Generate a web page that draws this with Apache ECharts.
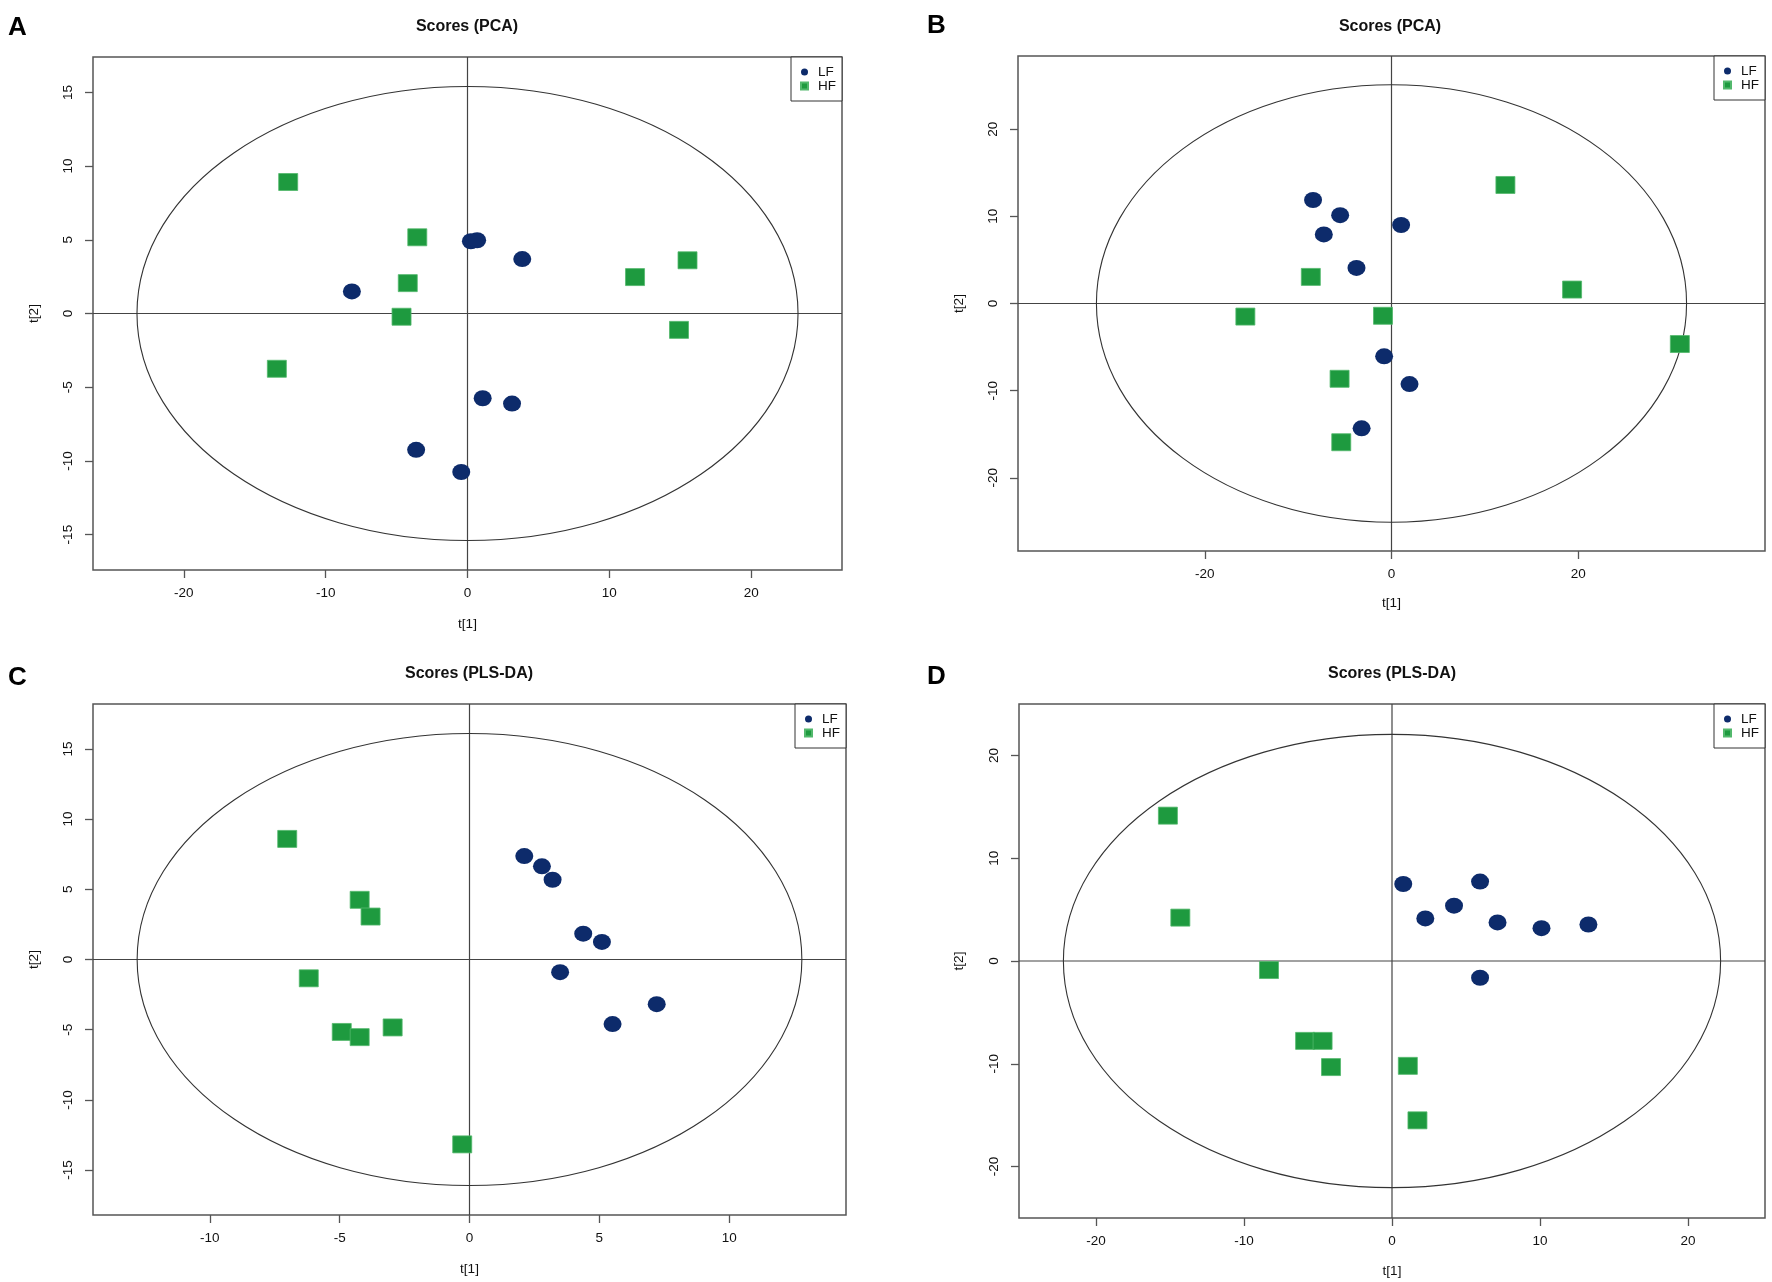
<!DOCTYPE html>
<html>
<head>
<meta charset="utf-8">
<title>Scores (PCA / PLS-DA)</title>
<script src="https://cdn.jsdelivr.net/npm/echarts@6/dist/echarts.min.js"></script>
<style>
  html, body { margin: 0; padding: 0; background: #fff; }
  #chart { width: 1772px; height: 1282px; }
</style>
</head>
<body>
<div id="chart"></div>
<script>
// 得分点数据 [t1, t2]
const pcaLF_A = [[-8.15, 1.5], [0.24, 4.9], [0.68, 4.97], [3.86, 3.69], [1.07, -5.75], [3.14, -6.11], [-3.62, -9.25], [-0.44, -10.75]];
const pcaHF_A = [[-12.64, 8.92], [-3.54, 5.17], [-4.21, 2.06], [-4.65, -0.22], [-13.44, -3.75], [11.81, 2.47], [15.51, 3.61], [14.91, -1.11]];

const pcaLF_B = [[-8.4, 11.88], [-5.5, 10.14], [-7.25, 7.93], [1.03, 9.01], [-3.75, 4.08], [-0.79, -6.06], [1.93, -9.25], [-3.2, -14.32]];
const pcaHF_B = [[12.2, 13.6], [-8.64, 3.05], [-15.65, -1.5], [-0.91, -1.41], [19.34, 1.6], [30.88, -4.65], [-5.56, -8.64], [-5.38, -15.92]];

const plsLF_C = [[2.11, 7.37], [2.79, 6.64], [3.2, 5.68], [4.38, 1.84], [5.1, 1.25], [3.49, -0.9], [7.21, -3.18], [5.51, -4.6]];
const plsHF_C = [[-7.02, 8.59], [-4.23, 4.25], [-3.81, 3.06], [-6.19, -1.34], [-4.92, -5.16], [-4.23, -5.53], [-2.96, -4.84], [-0.28, -13.17]];

const plsLF_D = [[0.76, 7.49], [5.95, 7.73], [2.25, 4.14], [4.19, 5.38], [7.13, 3.75], [10.1, 3.19], [13.27, 3.55], [5.95, -1.63]];
const plsHF_D = [[-15.14, 14.14], [-14.3, 4.22], [-8.31, -0.88], [-5.87, -7.77], [-4.69, -7.77], [-4.12, -10.32], [1.07, -10.2], [1.72, -15.5]];

// 面板文字、坐标范围、刻度
const panelLetters = ['A', 'B', 'C', 'D'];
const panelTitles = ['Scores (PCA)', 'Scores (PCA)', 'Scores (PLS-DA)', 'Scores (PLS-DA)'];
const xRanges = [[-26.4, 26.4], [-40, 40], [-14.5, 14.5], [-25.2, 25.2]];
const yRanges = [[-17.4, 17.4], [-28.4, 28.4], [-18.2, 18.2], [-25, 25]];
const xTicks = [[-20, -10, 0, 10, 20], [-20, 0, 20], [-10, -5, 0, 5, 10], [-20, -10, 0, 10, 20]];
const yTicks = [[-15, -10, -5, 0, 5, 10, 15], [-20, -10, 0, 10, 20], [-15, -10, -5, 0, 5, 10, 15], [-20, -10, 0, 10, 20]];
// Hotelling T2 椭圆半轴 [t1, t2]
const ellipseRadii = [[23.3, 15.4], [31.6, 25.1], [12.8, 16.1], [22.2, 22.05]];

const lfData = [pcaLF_A, pcaLF_B, plsLF_C, plsLF_D];
const hfData = [pcaHF_A, pcaHF_B, plsHF_C, plsHF_D];

(function() {
  const W = 1772;
  const FONT = '"Liberation Sans", Arial, Helvetica, sans-serif';
  const AXIS_COLOR = '#555';
  const LF_COLOR = '#0d2b6b';
  const HF_COLOR = '#1e9a3f';

  // 各面板绘图区位置
  const gridBoxes = [
    { left: 93, top: 57, width: 749, height: 513 },
    { left: 1018, top: 56, width: 747, height: 495 },
    { left: 93, top: 704, width: 753, height: 511 },
    { left: 1019, top: 704, width: 746, height: 514 }
  ];
  const titlePos = [[467, 27], [1390, 27], [469, 674], [1392, 674]];
  const letterPos = [[8, 28], [927, 26], [8, 678], [927, 677]];
  const xNameGap = [47, 45, 47, 46];
  const yNameGap = [52, 52, 52, 53];

  const chart = echarts.init(document.getElementById('chart'), null, { renderer: 'canvas' });

  const grid = [], xAxis = [], yAxis = [], series = [], legend = [], graphic = [];

  gridBoxes.forEach((g, i) => {
    grid.push(Object.assign({
      show: true,
      borderColor: AXIS_COLOR,
      borderWidth: 1.5,
      backgroundColor: 'transparent',
      containLabel: false
    }, g));

    xAxis.push({
      type: 'value',
      gridIndex: i,
      min: xRanges[i][0],
      max: xRanges[i][1],
      axisLine: { show: false, onZero: false },
      splitLine: { show: false },
      axisTick: { customValues: xTicks[i], length: 8, lineStyle: { color: AXIS_COLOR, width: 1.3 } },
      axisLabel: { customValues: xTicks[i], margin: 16, fontSize: 13.5, color: '#111', fontFamily: FONT },
      name: 't[1]',
      nameLocation: 'middle',
      nameGap: xNameGap[i],
      nameTextStyle: { fontSize: 13.5, color: '#111', fontFamily: FONT }
    });

    yAxis.push({
      type: 'value',
      gridIndex: i,
      min: yRanges[i][0],
      max: yRanges[i][1],
      axisLine: { show: false, onZero: false },
      splitLine: { show: false },
      axisTick: { customValues: yTicks[i], length: 8, lineStyle: { color: AXIS_COLOR, width: 1.3 } },
      axisLabel: { customValues: yTicks[i], rotate: 90, margin: 18, fontSize: 13.5, color: '#111', fontFamily: FONT },
      name: 't[2]',
      nameLocation: 'middle',
      nameRotate: 90,
      nameGap: yNameGap[i],
      nameTextStyle: { fontSize: 13.5, color: '#111', fontFamily: FONT }
    });

    // 椭圆和零线
    series.push({
      type: 'custom',
      xAxisIndex: i,
      yAxisIndex: i,
      silent: true,
      clip: false,
      z: 1,
      data: [[0, 0, ellipseRadii[i][0], ellipseRadii[i][1]]],
      renderItem: (params, api) => {
        const c = api.coord([api.value(0), api.value(1)]);
        const s = api.size([api.value(2), api.value(3)]);
        const cs = params.coordSys;
        const lineStyle = { stroke: '#444', lineWidth: 1.2 };
        return {
          type: 'group',
          children: [
            { type: 'line', shape: { x1: c[0], y1: cs.y, x2: c[0], y2: cs.y + cs.height }, style: lineStyle },
            { type: 'line', shape: { x1: cs.x, y1: c[1], x2: cs.x + cs.width, y2: c[1] }, style: lineStyle },
            { type: 'ellipse', shape: { cx: c[0], cy: c[1], rx: s[0], ry: s[1] }, style: { fill: 'none', stroke: '#333', lineWidth: 1.1 } }
          ]
        };
      }
    });

    series.push({
      type: 'scatter',
      name: 'LF',
      xAxisIndex: i,
      yAxisIndex: i,
      data: lfData[i],
      symbol: 'circle',
      symbolSize: [18, 16],
      itemStyle: { color: LF_COLOR, opacity: 1 },
      z: 3
    });

    series.push({
      type: 'scatter',
      name: 'HF',
      xAxisIndex: i,
      yAxisIndex: i,
      data: hfData[i],
      symbol: 'rect',
      symbolSize: [19, 17],
      itemStyle: { color: HF_COLOR, opacity: 1, borderColor: '#52b86c', borderWidth: 0.8 },
      z: 3
    });

    legend.push({
      data: ['LF', 'HF'],
      orient: 'vertical',
      right: W - (g.left + g.width),
      top: g.top,
      backgroundColor: '#fff',
      borderColor: '#333',
      borderWidth: 1,
      borderRadius: 0,
      padding: [8, 6, 8, 9],
      itemWidth: 7,
      itemHeight: 7,
      itemGap: 0,
      selectedMode: false,
      textStyle: { fontSize: 13.5, color: '#111', fontFamily: FONT, lineHeight: 14, padding: [0, 0, 0, 5] },
      z: 10
    });

    graphic.push({
      type: 'text',
      x: titlePos[i][0],
      y: titlePos[i][1],
      style: {
        text: panelTitles[i],
        font: 'bold 16px ' + FONT,
        fill: '#111',
        align: 'center',
        verticalAlign: 'middle',
        textAlign: 'center',
        textVerticalAlign: 'middle'
      }
    });

    graphic.push({
      type: 'text',
      x: letterPos[i][0],
      y: letterPos[i][1],
      style: {
        text: panelLetters[i],
        font: 'bold 26px ' + FONT,
        fill: '#000',
        align: 'left',
        verticalAlign: 'middle',
        textAlign: 'left',
        textVerticalAlign: 'middle'
      }
    });
  });

  chart.setOption({
    animation: false,
    backgroundColor: '#fff',
    grid,
    xAxis,
    yAxis,
    legend,
    graphic,
    series
  });

  window.addEventListener('resize', () => chart.resize());
})();
</script>
</body>
</html>
